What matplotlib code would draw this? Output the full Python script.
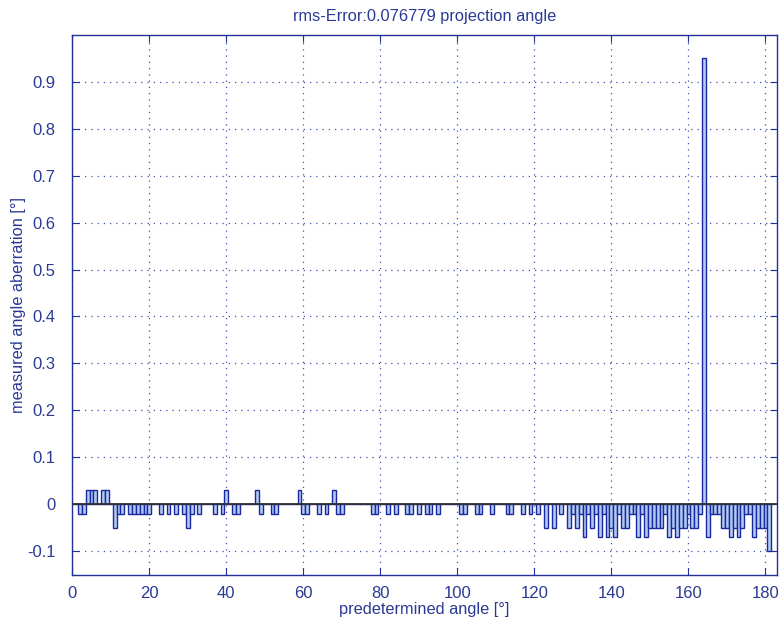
import matplotlib
matplotlib.use('Agg')
import matplotlib.pyplot as plt
from matplotlib.ticker import FixedLocator

plt.rcParams['font.family'] = ['Liberation Sans', 'DejaVu Sans']

title = "rms-Error:0.076779 projection angle"
xlabel = "predetermined angle [°]"
ylabel = "measured angle aberration [°]"

angles = list(range(1, 182))
values = [
    # 1-10
    0, -0.02, -0.02, 0.03, 0.03, 0.03, 0, 0.03, 0.03, 0,
    # 11-20
    -0.05, -0.02, -0.02, 0, -0.02, -0.02, -0.02, -0.02, -0.02, -0.02,
    # 21-30
    0, 0, -0.02, 0, -0.02, 0, -0.02, 0, -0.02, -0.05,
    # 31-40
    -0.02, 0, -0.02, 0, 0, 0, -0.02, 0, -0.02, 0.03,
    # 41-50
    0, -0.02, -0.02, 0, 0, 0, 0, 0.03, -0.02, 0,
    # 51-60
    0, -0.02, -0.02, 0, 0, 0, 0, 0, 0.03, -0.02,
    # 61-70
    -0.02, 0, 0, -0.02, 0, -0.02, 0, 0.03, -0.02, -0.02,
    # 71-80
    0, 0, 0, 0, 0, 0, 0, -0.02, -0.02, 0,
    # 81-90
    0, -0.02, 0, -0.02, 0, 0, -0.02, -0.02, 0, -0.02,
    # 91-100
    0, -0.02, -0.02, 0, -0.02, 0, 0, 0, 0, 0,
    # 101-110
    -0.02, -0.02, 0, 0, -0.02, -0.02, 0, 0, -0.02, 0,
    # 111-120
    0, 0, -0.02, -0.02, 0, 0, -0.02, 0, -0.02, 0,
    # 121-130
    -0.02, 0, -0.05, 0, -0.05, 0, -0.02, 0, -0.05, -0.02,
    # 131-140
    -0.05, -0.02, -0.07, -0.02, -0.05, -0.02, -0.07, -0.02, -0.07, -0.05,
    # 141-150
    -0.07, -0.02, -0.05, -0.05, -0.02, -0.02, -0.07, -0.02, -0.07, -0.05,
    # 151-160
    -0.05, -0.05, -0.05, -0.02, -0.07, -0.05, -0.07, -0.05, -0.05, -0.02,
    # 161-170
    -0.05, -0.05, -0.02, 0.95, -0.07, -0.02, -0.02, -0.02, -0.05, -0.05,
    # 171-181
    -0.07, -0.05, -0.07, -0.05, -0.02, -0.02, -0.07, -0.05, -0.05, -0.05, -0.1,
]

xticks = [0, 20, 40, 60, 80, 100, 120, 140, 160, 180]
yticks = [-0.1, 0, 0.1, 0.2, 0.3, 0.4, 0.5, 0.6, 0.7, 0.8, 0.9]
yticklabels = ['-0.1', '0', '0.1', '0.2', '0.3', '0.4', '0.5', '0.6', '0.7', '0.8', '0.9']

axcol = '#22309a'
textcol = '#2a3a94'

W, H = 780, 626
fig = plt.figure(figsize=(W / 100, H / 100), dpi=100)
fig.patch.set_facecolor('white')
left, right, top, bottom = 72.3, 777.0, 35.0, 574.5
ax = fig.add_axes([left / W, 1 - bottom / H, (right - left) / W, (bottom - top) / H])

ax.bar(angles, values, width=1.0, color='#b0ccf0', edgecolor='#1c28a0',
       linewidth=1.0, zorder=2)
ax.axhline(0, color='#303030', lw=1.3, zorder=3)

ax.set_xlim(0, 183)
ax.set_ylim(-0.15, 1.0)
ax.xaxis.set_major_locator(FixedLocator(xticks))
ax.set_yticks(yticks)
ax.set_yticklabels(yticklabels)

ax.grid(True, color='#4050b0', linestyle=(0, (1, 4)), linewidth=0.9, zorder=0)
ax.set_axisbelow(True)

for s in ax.spines.values():
    s.set_color(axcol)
    s.set_linewidth(1.0)
ax.tick_params(direction='in', top=True, right=True, length=5, width=0.8,
               colors=axcol, labelcolor=textcol, labelsize=12)
ax.tick_params(axis='y', pad=12)
ax.tick_params(axis='x', pad=8)

ax.set_title(title, color=textcol, fontsize=11.8, pad=10)
ax.set_xlabel(xlabel, color=textcol, fontsize=11.8, labelpad=1)
ax.set_ylabel(ylabel, color=textcol, fontsize=11.8, labelpad=1)

fig.savefig('out.png', dpi=100, facecolor='white')
